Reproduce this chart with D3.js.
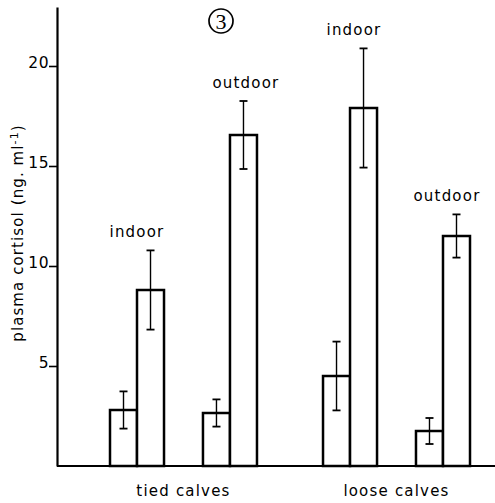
<!DOCTYPE html>
<html><head><meta charset="utf-8">
<script src="https://cdn.jsdelivr.net/npm/d3@7"></script>
<style>body{margin:0;background:#fff}svg{display:block}</style>
</head><body><svg id="c" width="495" height="503"></svg>
<script>
// ---- data ----
const housing = ["tied calves", "loose calves"];
const conditions = ["indoor", "outdoor"];
const periods = ["first", "second"];
// group order: tied-indoor, tied-outdoor, loose-indoor, loose-outdoor
const meanFirst = [2.8, 2.65, 4.5, 1.75];
const meanSecond = [8.8, 16.55, 17.9, 11.5];
const seFirst = [0.93, 0.68, 1.72, 0.65];
const seSecond = [1.98, 1.7, 2.98, 1.08];
const yTicks = [5, 10, 15, 20];
const yLabelMain = "plasma cortisol (ng. ml";
const yLabelSup = "-1";
const panelLabel = "3";

// ---- layout ----
const labelDx = [0, 16, 4, 4];
const font = "DejaVu Sans, sans-serif";
const svg = d3.select("#c");

const groups = [];
housing.forEach((h, i) => conditions.forEach((c, j) => {
  const k = i * 2 + j;
  groups.push({h, c, k,
    bars: [
      {p: periods[0], v: meanFirst[k], e: seFirst[k]},
      {p: periods[1], v: meanSecond[k], e: seSecond[k]}
    ]});
}));

const y = d3.scaleLinear().domain([0, 22.95]).range([466, 7]);
const x0 = d3.scaleBand().domain(housing).range([110, 470]).paddingInner(0.31);
const x1 = d3.scaleBand().domain(conditions).range([0, x0.bandwidth()]).paddingInner(0.419);
const x2 = d3.scaleBand().domain(periods).range([0, x1.bandwidth()]);

const axisX = 57;
// y axis
const ax = svg.append("g").attr("transform", `translate(${axisX},0)`)
  .call(d3.axisLeft(y).tickValues(yTicks).tickSize(8).tickSizeOuter(0).tickPadding(0).tickFormat(d3.format("d")));
ax.select(".domain").attr("stroke", "#000").attr("stroke-width", 2.2);
ax.selectAll(".tick line").attr("stroke", "#000").attr("stroke-width", 1.6);
ax.selectAll(".tick text").attr("font-family", font).attr("font-size", 15.5)
  .attr("fill", "#000").attr("dy", "0.08em").attr("x", -8).attr("letter-spacing", 0.5);

// baseline
svg.append("line").attr("x1", axisX).attr("x2", 495).attr("y1", y(0)).attr("y2", y(0))
  .attr("stroke", "#000").attr("stroke-width", 2.2);

// bars
const g = svg.selectAll(".grp").data(groups).enter().append("g")
  .attr("transform", d => `translate(${x0(d.h) + x1(d.c)},0)`);

g.selectAll("rect").data(d => d.bars).enter().append("rect")
  .attr("x", d => x2(d.p))
  .attr("y", d => y(d.v))
  .attr("width", x2.bandwidth())
  .attr("height", d => y(0) - y(d.v))
  .attr("fill", "#fff").attr("stroke", "#000").attr("stroke-width", 2.5);

const eb = g.selectAll(".eb").data(d => d.bars).enter().append("g")
  .attr("stroke", "#000").attr("stroke-width", 1.4);
eb.append("line")
  .attr("x1", d => x2(d.p) + x2.bandwidth() / 2).attr("x2", d => x2(d.p) + x2.bandwidth() / 2)
  .attr("y1", d => y(d.v + d.e)).attr("y2", d => y(d.v - d.e));
[1, -1].forEach(s => {
  eb.append("line")
    .attr("x1", d => x2(d.p) + x2.bandwidth() / 2 - 4).attr("x2", d => x2(d.p) + x2.bandwidth() / 2 + 4)
    .attr("y1", d => y(d.v + s * d.e)).attr("y2", d => y(d.v + s * d.e))
    .attr("stroke-width", 1.8);
});

// condition labels
g.append("text")
  .attr("x", d => x1.bandwidth() / 2 + labelDx[d.k])
  .attr("y", d => y(d.bars[1].v + d.bars[1].e) - 13)
  .attr("text-anchor", "middle").attr("font-family", font).attr("font-size", 15)
  .attr("letter-spacing", 1.2).attr("fill", "#000")
  .text(d => d.c);

// housing labels
svg.selectAll(".hl").data(housing).enter().append("text")
  .attr("x", d => x0(d) + x0.bandwidth() / 2)
  .attr("y", 496)
  .attr("text-anchor", "middle").attr("font-family", font).attr("font-size", 15)
  .attr("letter-spacing", 1.2).attr("fill", "#000")
  .text(d => d);

// y label
const yl = svg.append("text")
  .attr("transform", "translate(23,233) rotate(-90)")
  .attr("text-anchor", "middle").attr("font-family", font).attr("font-size", 15)
  .attr("letter-spacing", 1.1).attr("fill", "#000");
yl.append("tspan").text(yLabelMain);
yl.append("tspan").attr("dy", -5).attr("font-size", 11).text(yLabelSup);
yl.append("tspan").attr("dy", 5).text(")");

// panel label
svg.append("circle").attr("cx", 221).attr("cy", 21).attr("r", 12)
  .attr("fill", "none").attr("stroke", "#000").attr("stroke-width", 1.7);
svg.append("text").attr("x", 221).attr("y", 28.5).attr("text-anchor", "middle")
  .attr("font-family", "Liberation Serif, serif").attr("font-size", 22).attr("fill", "#000")
  .text(panelLabel);
</script>
</body></html>
